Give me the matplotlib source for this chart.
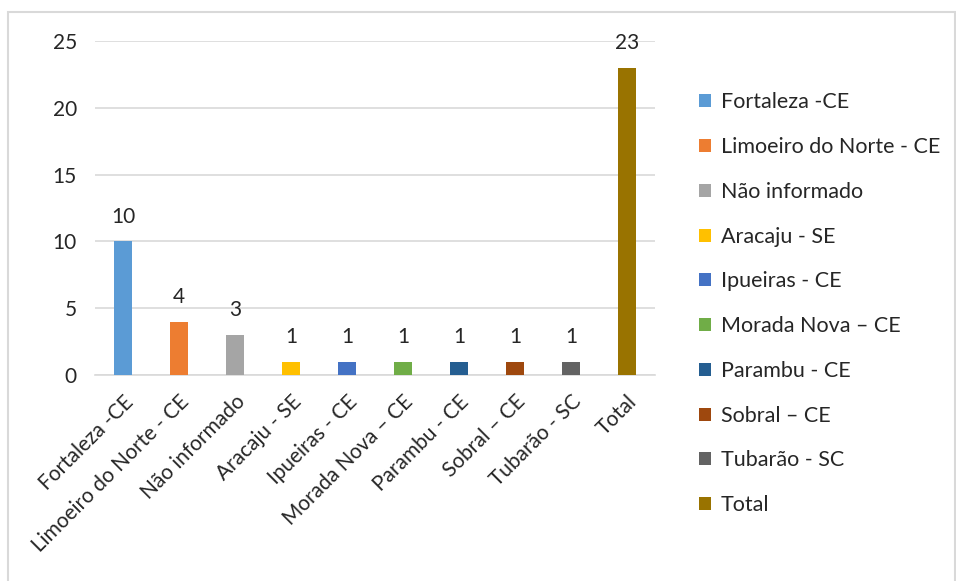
import matplotlib.pyplot as plt
from matplotlib.patches import Rectangle, Patch
import numpy as np

plt.rcParams['font.family'] = ['Lato', 'DejaVu Sans']

# data
categories = ['Fortaleza -CE', 'Limoeiro do Norte - CE', 'Não informado', 'Aracaju - SE',
              'Ipueiras - CE', 'Morada Nova – CE', 'Parambu - CE', 'Sobral – CE',
              'Tubarão - SC', 'Total']
values = [10, 4, 3, 1, 1, 1, 1, 1, 1, 23]
colors = ['#5b9bd5', '#ed7d31', '#a5a5a5', '#ffc000', '#4472c4', '#70ad47',
          '#255e91', '#9e480e', '#636363', '#997300']

fig = plt.figure(figsize=(9.56, 5.81), dpi=100)
# chart outer border
fig.patches.append(Rectangle((8/956, -0.01), 947/956, 1 - 12/581 + 0.01,
                             transform=fig.transFigure, fill=False,
                             edgecolor='#d9d9d9', linewidth=1.5))

ax = fig.add_axes([95/956, 206/581, 560/956, 334/581])
x = np.arange(len(categories))
ax.bar(x, values, width=0.33, color=colors, zorder=3)

for xi, v in zip(x, values):
    ax.text(xi, v + 1.1, str(v), ha='center', va='bottom', fontsize=15, color='#262626')

ax.set_xlim(-0.5, len(categories) - 0.5)
ax.set_ylim(0, 25)
ax.set_yticks(range(0, 26, 5))
ax.yaxis.grid(True, color='#d9d9d9', linewidth=1.2, zorder=0)
for s in ['top', 'right', 'left']:
    ax.spines[s].set_visible(False)
ax.spines['bottom'].set_color('#d9d9d9')
ax.spines['bottom'].set_linewidth(1.2)
ax.tick_params(axis='both', length=0, labelsize=15, colors='#262626')
ax.tick_params(axis='y', pad=13)
ax.set_xticks(x)
ax.set_xticklabels(categories, rotation=45, ha='right', rotation_mode='anchor')
ax.tick_params(axis='x', pad=12)

handles = [Patch(facecolor=c, label=l) for c, l in zip(colors, categories)]
fig.legend(handles=handles, loc='upper left', bbox_to_anchor=(680/956, 1 - 73/581),
           frameon=False, fontsize=15.5, labelspacing=1.15, handlelength=0.55,
           handleheight=0.55, handletextpad=0.45, labelcolor='#262626')

fig.savefig('out.png', dpi=100)
